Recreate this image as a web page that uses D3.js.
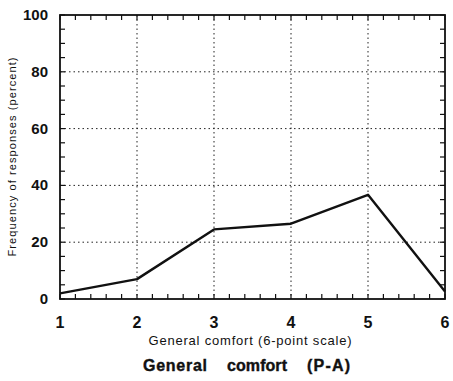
<!DOCTYPE html>
<html>
<head>
<meta charset="utf-8">
<script src="https://cdn.jsdelivr.net/npm/d3@7/dist/d3.min.js"></script>
<style>
body { margin: 0; background: #fff; }
text { font-family: "Liberation Sans", Arial, Helvetica, sans-serif; fill: #111; }
.tick-label { font-weight: bold; }
.grid { stroke: #222; stroke-width: 1; stroke-dasharray: 1.5,3; }
</style>
</head>
<body>
<svg id="chart" width="453" height="381"></svg>
<script>
// chart values
var scalePoints = [1, 2, 3, 4, 5, 6];
var frequency = [2, 7, 24.5, 26.5, 36.7, 2.6];
var yTicks = [0, 20, 40, 60, 80, 100];
var xGridAt = [2, 3, 4, 5];
var yGridAt = [20, 40, 60, 80];
var titleWords = ["General", "comfort", "(P-A)"];

var svg = d3.select("#chart");
// plot box (note: "top" is reserved on window, so use pl/pr/pt/pb)
var pl = 60, pr = 445, pt = 15, pb = 299;

var x = d3.scaleLinear().domain([1, 6]).range([pl, pr]);
var y = d3.scaleLinear().domain([0, 100]).range([pb, pt]);

// dotted grid
svg.selectAll("line.gx").data(xGridAt).enter().append("line")
  .attr("class", "grid")
  .attr("x1", d => x(d)).attr("x2", d => x(d))
  .attr("y1", pt).attr("y2", pb);
svg.selectAll("line.gy").data(yGridAt).enter().append("line")
  .attr("class", "grid")
  .attr("x1", pl).attr("x2", pr)
  .attr("y1", d => y(d)).attr("y2", d => y(d));

// inward minor ticks on all four sides
var tl = 5;
var xMinor = d3.range(1, 6.001, 0.2);
var yMinor = d3.range(0, 100.001, 5);
var ticks = svg.append("g").attr("stroke", "#111").attr("stroke-width", 1.2);
ticks.selectAll("line.xb").data(xMinor).enter().append("line")
  .attr("x1", d => x(d)).attr("x2", d => x(d)).attr("y1", pb).attr("y2", pb - tl);
ticks.selectAll("line.xt").data(xMinor).enter().append("line")
  .attr("x1", d => x(d)).attr("x2", d => x(d)).attr("y1", pt).attr("y2", pt + tl);
ticks.selectAll("line.yl").data(yMinor).enter().append("line")
  .attr("x1", pl).attr("x2", pl + tl).attr("y1", d => y(d)).attr("y2", d => y(d));
ticks.selectAll("line.yr").data(yMinor).enter().append("line")
  .attr("x1", pr).attr("x2", pr - tl).attr("y1", d => y(d)).attr("y2", d => y(d));

// frame
svg.append("rect")
  .attr("x", pl).attr("y", pt)
  .attr("width", pr - pl).attr("height", pb - pt)
  .attr("fill", "none").attr("stroke", "#111").attr("stroke-width", 1.8);

// tick labels
svg.selectAll("text.xl").data(scalePoints).enter().append("text")
  .attr("class", "tick-label")
  .attr("x", d => x(d)).attr("y", 328)
  .attr("text-anchor", "middle")
  .style("font-size", "16px")
  .text(d => d);
svg.selectAll("text.yl").data(yTicks).enter().append("text")
  .attr("class", "tick-label")
  .attr("x", 48).attr("y", d => y(d) + 5)
  .attr("text-anchor", "end")
  .style("font-size", "15px")
  .text(d => d);

// data line
var line = d3.line().x((d, i) => x(scalePoints[i])).y(d => y(d));
svg.append("path")
  .datum(frequency)
  .attr("d", line)
  .attr("fill", "none")
  .attr("stroke", "#111")
  .attr("stroke-width", 2.4)
  .attr("stroke-linejoin", "round");

// axis titles
svg.append("text")
  .attr("transform", "translate(16,157) rotate(-90)")
  .attr("text-anchor", "middle")
  .style("font-size", "11px")
  .attr("textLength", 199)
  .text("Frequency of responses (percent)");
svg.append("text")
  .attr("x", 250).attr("y", 345)
  .attr("text-anchor", "middle")
  .style("font-size", "13px")
  .attr("textLength", 203)
  .text("General comfort (6-point scale)");

// chart title, words spread apart like the original
var titleX = [143, 227, 307];
var titleW = [64, 60, 43];
svg.selectAll("text.title").data(titleWords).enter().append("text")
  .attr("x", (d, i) => titleX[i]).attr("y", 371)
  .attr("textLength", (d, i) => titleW[i])
  .style("font-size", "16px").style("font-weight", "bold")
  .style("stroke", "#111").style("stroke-width", 0.4)
  .text(d => d);
</script>
</body>
</html>
